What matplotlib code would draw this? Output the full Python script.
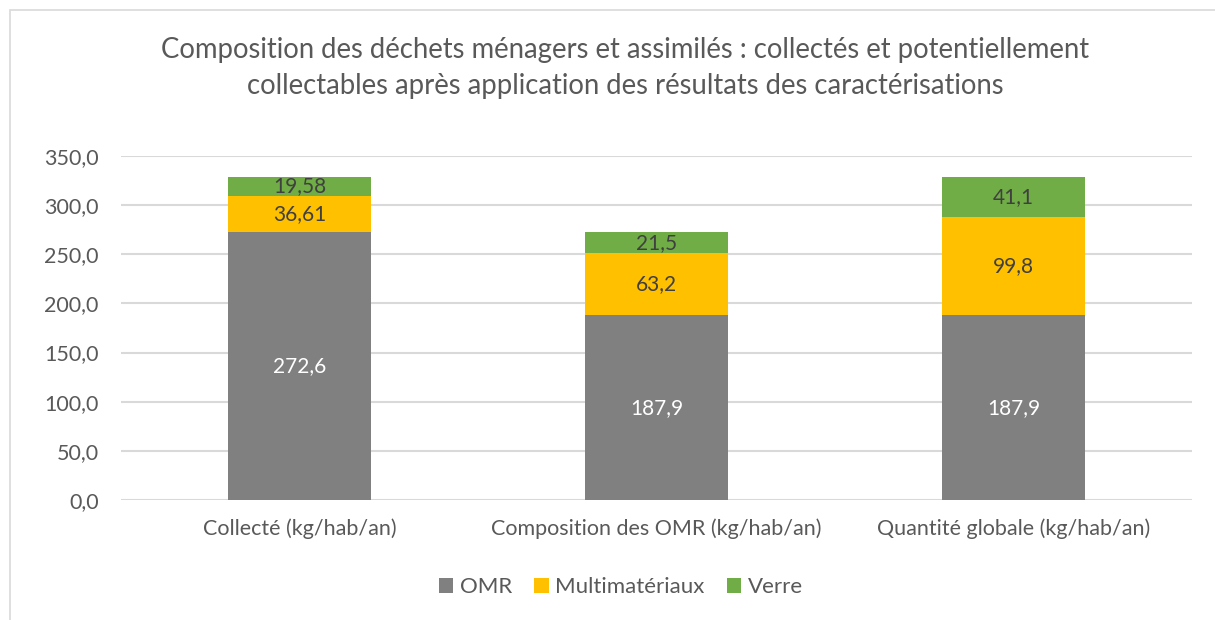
import matplotlib.pyplot as plt
from matplotlib.patches import Rectangle
import numpy as np

categories = ['Collecté (kg/hab/an)', 'Composition des OMR (kg/hab/an)', 'Quantité globale (kg/hab/an)']
omr = [272.6, 187.9, 187.9]
multi = [36.61, 63.2, 99.8]
verre = [19.58, 21.5, 41.1]
omr_labels = ['272,6', '187,9', '187,9']
multi_labels = ['36,61', '63,2', '99,8']
verre_labels = ['19,58', '21,5', '41,1']
yticks = [0, 50, 100, 150, 200, 250, 300, 350]

plt.rcParams['font.family'] = ['Lato', 'DejaVu Sans']

fig = plt.figure(figsize=(12.15, 6.2), dpi=100)
# chart frame
fig.patches.append(Rectangle((10 / 1215, -0.01), 1.02, 1 - 10 / 620 + 0.01, transform=fig.transFigure,
                             fill=False, edgecolor='#d9d9d9', linewidth=1.2))

ax = fig.add_axes([121 / 1215, 120 / 620, 1071 / 1215, 344 / 620])
x = np.arange(len(categories))
w = 0.4
b1 = ax.bar(x, omr, w, color='#808080', label='OMR', zorder=3)
b2 = ax.bar(x, multi, w, bottom=omr, color='#ffc000', label='Multimatériaux', zorder=3)
bottom2 = [a + b for a, b in zip(omr, multi)]
b3 = ax.bar(x, verre, w, bottom=bottom2, color='#70ad47', label='Verre', zorder=3)

ax.bar_label(b1, labels=omr_labels, label_type='center', color='white', fontsize=15)
ax.bar_label(b2, labels=multi_labels, label_type='center', color='#404040', fontsize=15)
ax.bar_label(b3, labels=verre_labels, label_type='center', color='#404040', fontsize=15)

ax.set_xlim(-0.5, 2.5)
ax.set_ylim(0, 350)
ax.set_yticks(yticks)
ax.set_yticklabels([f'{v:.1f}'.replace('.', ',') for v in yticks])
ax.set_xticks(x)
ax.set_xticklabels(categories)
ax.tick_params(axis='both', length=0, colors='#595959', labelsize=15.5)
ax.tick_params(axis='y', pad=16)
ax.tick_params(axis='x', pad=13)
ax.yaxis.grid(True, color='#d9d9d9', linewidth=1.5, zorder=0)
for s in ax.spines.values():
    s.set_visible(False)

fig.text(0.5145, 1 - 68 / 620,
         'Composition des déchets ménagers et assimilés : collectés et potentiellement\n'
         'collectables après application des résultats des caractérisations',
         ha='center', va='center', fontsize=19.8, color='#595959', linespacing=1.45)

fig.legend(loc='center', bbox_to_anchor=(0.511, 1 - 587 / 620), ncol=3, frameon=False,
           fontsize=16, labelcolor='#595959', handlelength=0.65, handleheight=0.65,
           handletextpad=0.3, columnspacing=1.0)

fig.savefig('out.png', dpi=100, facecolor='white')
